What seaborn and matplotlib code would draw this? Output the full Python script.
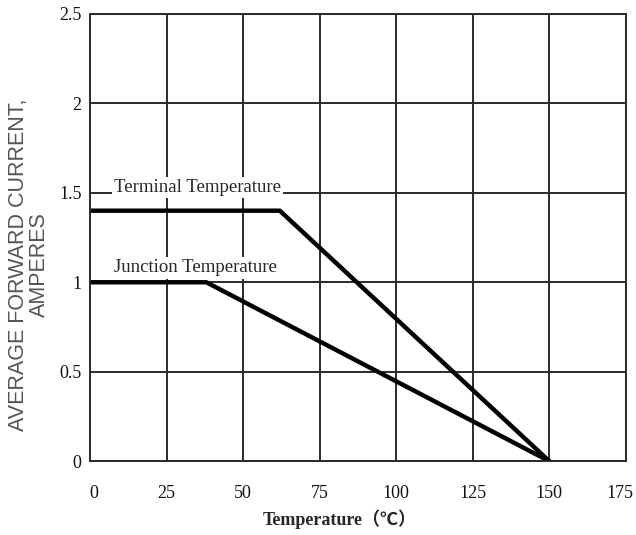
import pandas as pd
import seaborn as sns
import matplotlib.pyplot as plt
import matplotlib.transforms as mtransforms

# derating curves
temp_terminal = [0, 62, 150]
amps_terminal = [1.4, 1.4, 0]
temp_junction = [0, 38, 150]
amps_junction = [1.0, 1.0, 0]
x_ticks = [0, 25, 50, 75, 100, 125, 150, 175]
y_ticks = [0, 0.5, 1, 1.5, 2, 2.5]
y_tick_labels = ['0', '0.5', '1', '1.5', '2', '2.5']

df = pd.concat([
    pd.DataFrame({'temp': temp_terminal, 'amps': amps_terminal, 'curve': 'Terminal Temperature'}),
    pd.DataFrame({'temp': temp_junction, 'amps': amps_junction, 'curve': 'Junction Temperature'}),
])

sns.set_style('white')
plt.rcParams['font.family'] = ['Liberation Serif', 'Noto Sans CJK SC', 'DejaVu Sans']

fig = plt.figure(figsize=(6.36, 5.35), dpi=100)
ax = fig.add_axes([0.1415, 0.138, 0.8425, 0.836])

sns.lineplot(data=df, x='temp', y='amps', units='curve', estimator=None,
             color='black', linewidth=3.2, sort=False, legend=False, ax=ax)

ax.set_xlim(0, 175)
ax.set_ylim(0, 2.5)
ax.set_xticks(x_ticks)
ax.set_yticks(y_ticks)
ax.set_yticklabels(y_tick_labels)
ax.grid(True, color='#2a2a2a', linewidth=1.4)
for s in ax.spines.values():
    s.set_color('#2a2a2a')
    s.set_linewidth(1.4)
ax.tick_params(axis='both', length=0, labelsize=13, colors='#111111')
ax.tick_params(axis='x', pad=17)
ax.tick_params(axis='y', pad=6)

# last x label sits inside the figure edge in the original
last = ax.get_xticklabels()[-1]
last.set_transform(last.get_transform() + mtransforms.ScaledTranslation(-0.06, 0, fig.dpi_scale_trans))
first = ax.get_xticklabels()[0]
first.set_transform(first.get_transform() + mtransforms.ScaledTranslation(0.04, 0, fig.dpi_scale_trans))

ax.text(35, 1.53, 'Terminal Temperature', ha='center', va='center', fontsize=13.5,
        bbox=dict(facecolor='white', edgecolor='none', pad=1.5))
ax.text(34.3, 1.08, 'Junction Temperature', ha='center', va='center', fontsize=13.5,
        bbox=dict(facecolor='white', edgecolor='none', pad=1.5))

ax.set_xlabel('Temperature（℃）', fontsize=13, fontweight='bold')
ax.xaxis.set_label_coords(0.466, -0.108)
ax.set_ylabel('AVERAGE FORWARD CURRENT,\nAMPERES', fontsize=15.5, color='#555555',
              family='Liberation Sans', linespacing=1.0)
ax.yaxis.set_label_coords(-0.075, 0.44)

fig.savefig('out.png', dpi=100)
